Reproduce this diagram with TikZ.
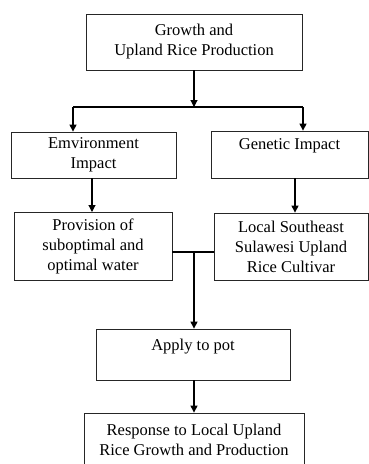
\documentclass[tikz,border=0pt]{standalone}
\usepackage{fontspec}
\setmainfont{Liberation Serif}
\usetikzlibrary{arrows.meta}

\tikzset{
	box/.style={draw=black!85, line width=0.8pt, align=center, inner sep=0pt,
		font=\fontsize{16.5}{20}\selectfont},
	arr/.style={line width=1.1pt, -{Triangle[width=7pt,length=7pt]}},
	link/.style={line width=1.1pt},
}

\begin{document}
\begin{tikzpicture}[x=1pt,y=-1pt]
	
	\useasboundingbox (0,0) rectangle (369,464);
	\node[box, minimum width=216pt, minimum height=56pt] (growth) at (194,42) {Growth and\\Upland Rice Production};
	\node[box, minimum width=165pt, minimum height=46pt] (env) at (93.5,155) {Emvironment\\Impact};
	\node[box, minimum width=157pt, minimum height=47pt] (genetic) at (289.5,154.5) {Genetic Impact\\~};
	\node[box, minimum width=158pt, minimum height=68pt] (water) at (93,246) {Provision of\\suboptimal and\\optimal water};
	\node[box, minimum width=154pt, minimum height=67pt] (cultivar) at (291,246.5) {Local Southeast\\Sulawesi Upland\\Rice Cultivar};
	\node[box, minimum width=194pt, minimum height=51pt] (pot) at (193,354.5) {Apply to pot\\~};
	\node[box, minimum width=220pt, minimum height=53pt] (response) at (194,439.5) {Response to Local Upland\\Rice Growth and Production};
	
	\coordinate (split) at (194,107);
	\coordinate (splitl) at (73,107);
	\coordinate (splitr) at (303,107);
	\coordinate (join) at (194,252);
	
	\draw[arr] (growth.south -| split) -- (split);
	\draw[link] (splitl) -- (splitr);
	\draw[arr] (splitl) -- (splitl |- env.north);
	\draw[arr] (splitr) -- (splitr |- genetic.north);
	\draw[arr] (92,178) -- (92,212);
	\draw[arr] (genetic.south -| 295,0) -- (cultivar.north -| 295,0);
	\draw[link] (join -| water.east) -- (join -| cultivar.west);
	\draw[arr] (join) -- (pot.north -| join);
	\draw[arr] (pot.south -| join) -- (response.north -| join);
	
\end{tikzpicture}
\end{document}
